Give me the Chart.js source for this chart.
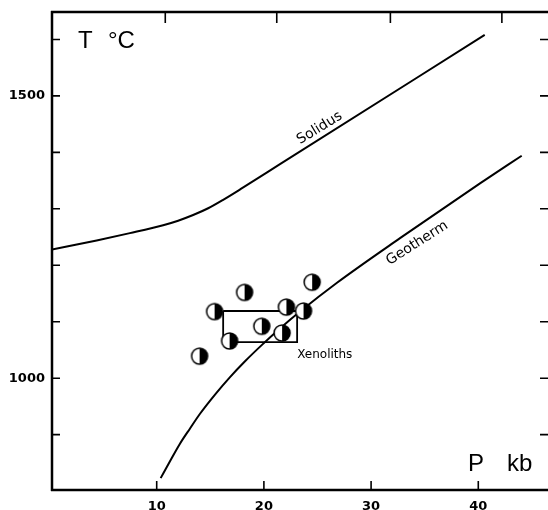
<!DOCTYPE html>
<html>
<head>
<meta charset="utf-8">
<script src="https://cdn.jsdelivr.net/npm/chart.js@4.4.0/dist/chart.umd.min.js"></script>
<style>
  html, body { margin: 0; padding: 0; background: #fff; overflow: hidden; }
</style>
</head>
<body>
<canvas id="chart" width="548" height="510"></canvas>
<script>
// values (P in kb, T in degrees C)
const solidusP = [0.23, 4.4, 7.5, 10.6, 12.0, 13.4, 14.8, 16.2, 18.0, 21.5, 40.6];
const solidusT = [1228, 1244, 1257, 1271, 1279, 1289, 1301, 1316, 1337, 1379, 1608];

const geothermP = [10.37, 11.24, 12.17, 13.11, 14.04, 15.44, 16.84, 18.24, 19.82, 21.5, 23.37, 26.82, 32.7, 40.16, 44.05];
const geothermT = [823, 853, 884, 911, 937, 971, 1002, 1030, 1059, 1088, 1118, 1169, 1248, 1345, 1394];

const xenoP = [15.4, 18.2, 24.5, 22.1, 23.7, 19.8, 21.7, 16.8, 14.0];
const xenoT = [1118, 1152, 1170, 1126, 1119, 1092, 1080, 1066, 1039];

const boxP = [16.2, 23.1, 23.1, 16.2, 16.2];
const boxT = [1119, 1119, 1064, 1064, 1119];

const xTickLabels = [10, 20, 30, 40];
const yTickLabels = [1000, 1500];
const yTickMarks = [900, 1000, 1100, 1200, 1300, 1400, 1500, 1600];
const topTickMarks = [10.8, 21.2, 31.8, 42.2];

const pts = (xs, ys) => xs.map((x, i) => ({x: x, y: ys[i]}));

// half filled circle used as the point symbol
const sym = document.createElement('canvas');
sym.width = 20; sym.height = 20;
(function () {
    const c = sym.getContext('2d');
    c.fillStyle = '#fff';
    c.beginPath(); c.arc(10, 10, 8, 0, Math.PI * 2); c.fill();
    c.fillStyle = '#000';
    c.beginPath(); c.arc(10, 10, 8, -Math.PI / 2, Math.PI / 2); c.closePath(); c.fill();
    c.strokeStyle = '#000'; c.lineWidth = 1.5;
    c.beginPath(); c.arc(10, 10, 8, 0, Math.PI * 2); c.stroke();
})();

const frame = {
    id: 'frame',
    afterDatasetsDraw(chart) {
        const ctx = chart.ctx, a = chart.chartArea;
        const x = chart.scales.x, y = chart.scales.y;
        ctx.save();
        ctx.strokeStyle = '#000';
        ctx.lineWidth = 2.5;
        ctx.beginPath();
        ctx.moveTo(a.left, a.top - 1); ctx.lineTo(a.left, a.bottom + 1);
        ctx.moveTo(a.left - 1, a.bottom); ctx.lineTo(chart.width, a.bottom);
        ctx.moveTo(a.left - 1, a.top); ctx.lineTo(chart.width, a.top);
        ctx.stroke();

        // inward tick marks
        ctx.lineWidth = 1.6;
        ctx.beginPath();
        yTickMarks.forEach(v => {
            const py = y.getPixelForValue(v);
            ctx.moveTo(a.left, py); ctx.lineTo(a.left + 8, py);
            ctx.moveTo(a.right - 7, py); ctx.lineTo(a.right + 2, py);
        });
        xTickLabels.forEach(v => {
            const px = x.getPixelForValue(v);
            ctx.moveTo(px, a.bottom); ctx.lineTo(px, a.bottom - 9);
        });
        topTickMarks.forEach(v => {
            const px = x.getPixelForValue(v);
            ctx.moveTo(px, a.top); ctx.lineTo(px, a.top + 11);
        });
        ctx.stroke();

        // tick labels
        ctx.fillStyle = '#000';
        ctx.font = 'bold 13px "DejaVu Sans", sans-serif';
        ctx.textAlign = 'right';
        ctx.textBaseline = 'middle';
        yTickLabels.forEach(v => ctx.fillText(String(v), a.left - 7, y.getPixelForValue(v)));
        ctx.textAlign = 'center';
        ctx.textBaseline = 'top';
        xTickLabels.forEach(v => ctx.fillText(String(v), x.getPixelForValue(v), a.bottom + 10));

        // axis titles
        ctx.font = '24px "Liberation Sans", Arial, sans-serif';
        ctx.textBaseline = 'alphabetic';
        ctx.textAlign = 'left';
        ctx.fillText('T', a.left + 26, a.top + 36);
        ctx.fillText('°C', a.left + 56, a.top + 36);
        ctx.fillText('P', a.right - 79, a.bottom - 19);
        ctx.fillText('kb', a.right - 40, a.bottom - 19);

        const label = (txt, px, ty, deg, size, align) => {
            ctx.save();
            ctx.translate(x.getPixelForValue(px), y.getPixelForValue(ty));
            ctx.rotate(deg * Math.PI / 180);
            ctx.font = size + 'px "DejaVu Sans", sans-serif';
            ctx.textAlign = align;
            ctx.textBaseline = align === 'center' ? 'middle' : 'alphabetic';
            ctx.fillText(txt, 0, 0);
            ctx.restore();
        };
        label('Solidus', 25.2, 1443, -31.5, 14, 'center');
        label('Geotherm', 34.3, 1239, -32.5, 14, 'center');
        label('Xenoliths', 23.1, 1036, 0, 12, 'left');
        ctx.restore();
    }
};

const ctx = document.getElementById('chart').getContext('2d');

const chart = new Chart(ctx, {
    type: 'scatter',
    data: {
        datasets: [
            {
                label: 'Xenoliths',
                data: pts(xenoP, xenoT),
                pointStyle: sym,
                pointRadius: 8,
                order: 0
            },
            {
                label: 'Solidus',
                data: pts(solidusP, solidusT),
                showLine: true,
                borderColor: '#000',
                borderWidth: 2,
                pointRadius: 0,
                cubicInterpolationMode: 'monotone',
                order: 1
            },
            {
                label: 'Geotherm',
                data: pts(geothermP, geothermT),
                showLine: true,
                borderColor: '#000',
                borderWidth: 2,
                pointRadius: 0,
                cubicInterpolationMode: 'monotone',
                order: 1
            },
            {
                label: 'Box',
                data: pts(boxP, boxT),
                showLine: true,
                borderColor: '#000',
                borderWidth: 1.8,
                pointRadius: 0,
                tension: 0,
                order: 2
            }
        ]
    },
    options: {
        responsive: false,
        animation: false,
        layout: { autoPadding: false, padding: { top: 12, right: 1, left: 0, bottom: 0 } },
        plugins: {
            legend: { display: false },
            tooltip: { enabled: false }
        },
        scales: {
            x: {
                type: 'linear',
                min: 0.233,
                max: 46.41,
                border: { display: false },
                grid: { display: false, drawTicks: false },
                ticks: { display: false },
                afterFit: s => { s.height = 20; }
            },
            y: {
                type: 'linear',
                min: 802,
                max: 1648.6,
                border: { display: false },
                grid: { display: false, drawTicks: false },
                ticks: { display: false },
                afterFit: s => { s.width = 52; }
            }
        }
    },
    plugins: [frame]
});
</script>
</body>
</html>
